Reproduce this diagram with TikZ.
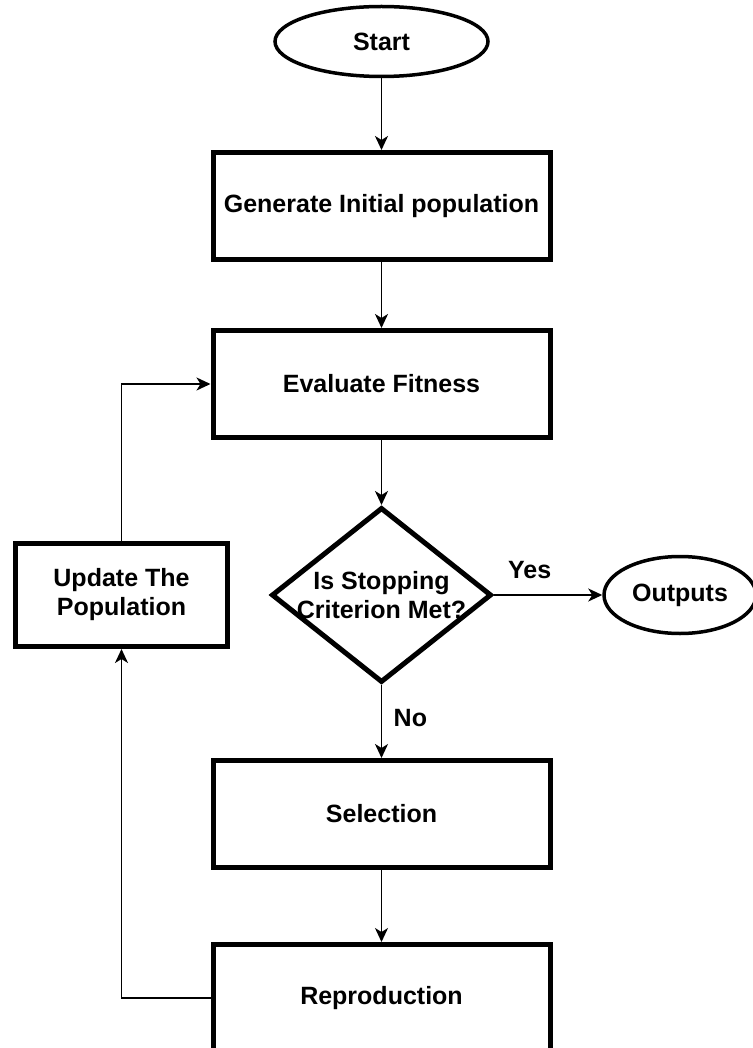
\documentclass[tikz,border=0pt]{standalone}
\usepackage{fontspec}
\setmainfont{Liberation Sans}
\usepackage{tikz}
\usetikzlibrary{shapes.geometric,positioning,arrows.meta}

\begin{document}
\begin{tikzpicture}[x=1pt,y=1pt,node distance=3cm,on grid,auto,
    font=\bfseries\fontsize{25}{29}\selectfont,
    every node/.style={align=center},
    term/.style={ellipse,draw,line width=3.5pt,inner sep=0pt},
    proc/.style={rectangle,draw,line width=5pt,minimum width=337pt,minimum height=107pt},
    link/.style={line width=1.8pt,-{Stealth[length=14pt,width=13pt,inset=4pt]}}]
    \useasboundingbox (0,0) rectangle (752,-1048);
    \node[term,minimum width=213pt,minimum height=70pt] (start) at (381.5,-41.5) {Start};
    \node[proc] (init) [below=164.5pt of start] {Generate Initial population};
    \node[proc] (eval) [below=178pt of init] {Evaluate Fitness};
    \node[diamond,draw,line width=5pt,inner sep=0pt,minimum width=220pt,minimum height=175pt,
      label={[align=center]center:Is Stopping\\Criterion Met?}] (crit) [below=211pt of eval] {};
    \node[term,minimum width=152pt,minimum height=77pt] (outs) [right=298.5pt of crit] {Outputs};
    \node[proc] (sel) [below=219pt of crit] {Selection};
    \node[proc] (repro) [below=184pt of sel] {Reproduction};
    \node[proc,minimum width=212pt,minimum height=103pt] (upd) [left=260pt of crit] {Update The\\Population};
    \path[link]
    (start) edge (init)
    (init) edge (eval)
    (eval) edge (crit)
    (crit) edge node[pos=0.33,above=12pt] {Yes} (outs)
    (crit) edge node[pos=0.45,right=8pt] {No} (sel)
    (sel) edge (repro)
    ;
    \draw[link] (repro.west) -| (upd.south);
    \draw[link] (upd.north) |- (eval.west);
  \end{tikzpicture}
\end{document}
